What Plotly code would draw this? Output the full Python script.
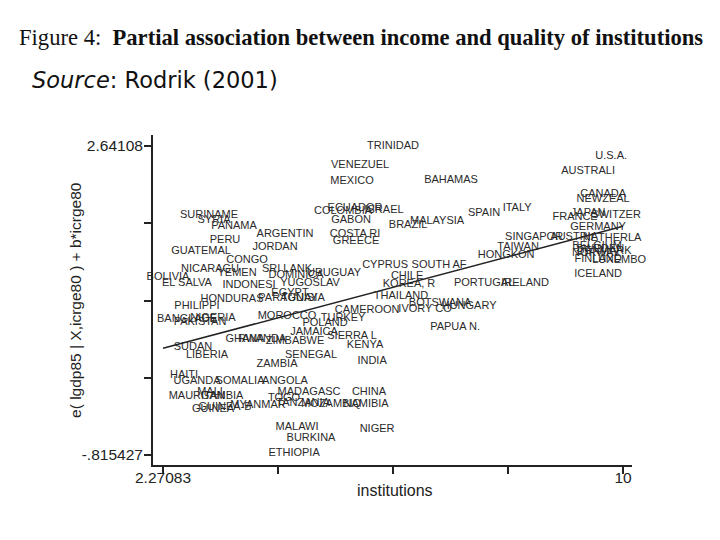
import plotly.graph_objects as go

countries = ["TRINIDAD", "VENEZUEL", "MEXICO", "BAHAMAS", "U.S.A.", "AUSTRALI", "CANADA", "NEWZEAL",
             "ECUADOR", "COLOMBIA", "ISRAEL", "GABON", "BRAZIL", "MALAYSIA", "SPAIN", "ITALY",
             "FRANCE", "JAPAN", "SWITZER", "GERMANY", "AUSTRIA", "NETHERLA", "SINGAPOR", "TAIWAN",
             "HONGKON", "BELGIUM", "SWEDEN", "DENMARK", "NORWAY", "FINLAND", "LUXEMBO", "ICELAND",
             "CYPRUS", "SOUTH AF", "CHILE", "KOREA, R", "THAILAND", "BOTSWANA", "HUNGARY", "IVORY CO",
             "CAMEROON", "PAPUA N.", "PORTUGAL", "IRELAND", "SURINAME", "SYRIA", "PANAMA", "ARGENTIN",
             "PERU", "JORDAN", "GUATEMAL", "CONGO", "NICARAGU", "YEMEN", "SRI LANK", "DOMINICA",
             "URUGUAY", "BOLIVIA", "EL SALVA", "INDONESI", "YUGOSLAV", "EGYPT", "PARAGUAY", "TUNISIA",
             "HONDURAS", "PHILIPPI", "BANGLADE", "NIGERIA", "PAKISTAN", "MOROCCO", "TURKEY", "POLAND",
             "JAMAICA", "GHANA", "RWANDA", "ZIMBABWE", "SIERRA L", "KENYA", "SUDAN", "LIBERIA",
             "SENEGAL", "INDIA", "ZAMBIA", "HAITI", "UGANDA", "SOMALIA", "ANGOLA", "MALI",
             "MADAGASC", "CHINA", "MAURITAN", "GAMBIA", "TOGO", "TANZANIA", "MOZAMBIQ", "NAMIBIA",
             "MYANMAR", "GUINEA", "GUINEA-B", "MALAWI", "NIGER", "BURKINA", "ETHIOPIA",
             "COSTA RI", "GREECE"]

institutions = [6.137, 5.582, 5.447, 7.111, 9.801, 9.414, 9.666, 9.666,
                5.498, 5.296, 5.985, 5.431, 6.389, 6.876, 7.666, 8.221,
                9.195, 9.414, 9.884, 9.582, 9.179, 9.817, 8.506, 8.237,
                8.036, 9.565, 9.616, 9.683, 9.548, 9.582, 9.935, 9.582,
                6.002, 6.910, 6.372, 6.405, 6.271, 6.927, 7.414, 6.674,
                5.700, 7.179, 7.666, 8.355, 3.044, 3.128, 3.464, 4.321,
                3.313, 4.153, 2.910, 3.683, 3.061, 3.515, 4.355, 4.506,
                5.145, 2.355, 2.674, 3.716, 4.742, 4.405, 4.372, 4.624,
                3.431, 2.842, 2.674, 3.111, 2.893, 4.355, 5.296, 4.994,
                4.809, 3.649, 3.935, 4.489, 5.447, 5.666, 2.775, 3.011,
                4.758, 5.784, 4.187, 2.624, 2.842, 3.565, 4.321, 3.061,
                4.725, 5.733, 2.842, 3.263, 4.305, 4.624, 5.095, 5.683,
                3.868, 3.111, 3.313, 4.523, 5.868, 4.758, 4.473,
                5.498, 5.515]

residual = [2.641, 2.429, 2.250, 2.261, 2.529, 2.361, 2.104, 2.048,
            1.947, 1.914, 1.925, 1.813, 1.757, 1.802, 1.892, 1.947,
            1.847, 1.892, 1.869, 1.735, 1.623, 1.612, 1.623, 1.511,
            1.422, 1.522, 1.489, 1.466, 1.444, 1.377, 1.366, 1.209,
            1.310, 1.310, 1.187, 1.097, 0.963, 0.885, 0.851, 0.818,
            0.806, 0.616, 1.109, 1.109, 1.869, 1.813, 1.746, 1.657,
            1.589, 1.511, 1.466, 1.366, 1.265, 1.220, 1.265, 1.198,
            1.220, 1.176, 1.109, 1.086, 1.109, 0.997, 0.941, 0.941,
            0.930, 0.851, 0.706, 0.717, 0.672, 0.739, 0.717, 0.661,
            0.560, 0.482, 0.482, 0.460, 0.516, 0.415, 0.393, 0.303,
            0.303, 0.236, 0.202, 0.079, 0.012, 0.012, 0.012, -0.111,
            -0.111, -0.111, -0.156, -0.156, -0.178, -0.234, -0.245, -0.245,
            -0.256, -0.301, -0.278, -0.502, -0.525, -0.625, -0.795,
            1.657, 1.578]

fit_x = [2.27083, 10.0]
fit_y = [0.378, 1.744]

x_tickvals = [2.27083, 4.20312, 6.13542, 8.06771, 10.0]
x_ticktext = ["2.27083", "", "", "", "10"]
y_tickvals = [-0.815427, 0.048700, 0.912827, 1.776954, 2.64108]
y_ticktext = ["-.815427", "", "", "", "2.64108"]

fig = go.Figure()
fig.add_trace(go.Scatter(x=fit_x, y=fit_y, mode="lines",
                         line=dict(color="#222222", width=1.5), hoverinfo="skip"))
fig.add_trace(go.Scatter(x=institutions, y=residual, mode="text", text=countries,
                         textposition="middle center", cliponaxis=False,
                         textfont=dict(family="Liberation Sans, Arial", size=11, color="#2a2a2a")))

axis_font = dict(family="Liberation Sans, Arial", size=15.5, color="#222222")
fig.update_layout(
    width=720, height=540,
    margin=dict(l=145, r=96, t=127, b=83),
    paper_bgcolor="white", plot_bgcolor="white",
    showlegend=False,
    xaxis=dict(range=[2.103, 10.151], tickvals=x_tickvals, ticktext=x_ticktext,
               showline=True, linecolor="#222222", linewidth=2, ticks="outside",
               ticklen=7, tickwidth=1.5, tickcolor="#222222", showgrid=False,
               zeroline=False, tickfont=axis_font, ticklabelstandoff=-10),
    yaxis=dict(range=[-0.927, 2.764], tickvals=y_tickvals, ticktext=y_ticktext,
               showline=True, linecolor="#222222", linewidth=2, ticks="outside",
               ticklen=7, tickwidth=1.5, tickcolor="#222222", showgrid=False,
               zeroline=False, tickfont=axis_font, ticklabelstandoff=-2),
    annotations=[
        dict(text="Figure 4:  <b>Partial association between income and quality of institutions</b>",
             xref="paper", yref="paper", x=-0.284, y=1.294, xanchor="left", yanchor="middle",
             showarrow=False, font=dict(family="Liberation Serif, Times New Roman", size=22.6, color="#111111")),
        dict(text="<i>Source</i>: Rodrik (2001)",
             xref="paper", yref="paper", x=-0.257, y=1.167, xanchor="left", yanchor="middle",
             showarrow=False, font=dict(family="DejaVu Sans", size=22.5, color="#111111")),
        dict(text="institutions", xref="paper", yref="paper", x=0.505, y=-0.076,
             xanchor="center", yanchor="middle", showarrow=False,
             font=dict(family="Liberation Sans, Arial", size=16, color="#222222")),
        dict(text="e( lgdp85 | X,icrge80 ) + b*icrge80", xref="paper", yref="paper",
             x=-0.163, y=0.5, xanchor="center", yanchor="middle", textangle=-90,
             showarrow=False, font=dict(family="Liberation Sans, Arial", size=15.5, color="#222222")),
    ],
)

fig.write_html("out.html")
